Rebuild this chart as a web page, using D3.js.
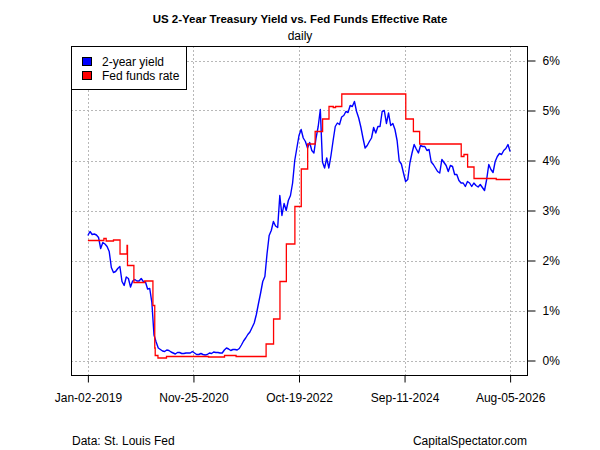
<!DOCTYPE html>
<html>
<head>
<meta charset="utf-8">
<script src="https://cdn.jsdelivr.net/npm/d3@7"></script>
<style>
  body { margin: 0; background: #fff; }
  text { font-family: "Liberation Sans", Arial, sans-serif; }
</style>
</head>
<body>
<div id="chart"></div>
<script>
// 2-year yield, sampled every 14 days starting Jan-02-2019
var sampleStart = "2019-01-02";
var sampleStepDays = 14;
var yield2019 = [2.50,2.58,2.52,2.53,2.51,2.46,2.24,2.36,2.33,2.28,2.18,1.86,1.76,1.78,1.84,1.88,1.58,1.50,1.67,1.64,1.47,1.59,1.62,1.59,1.59,1.64];
var yield2020 = [1.58,1.57,1.43,1.44,1.16,0.51,0.37,0.25,0.22,0.19,0.18,0.21,0.20,0.17,0.15,0.13,0.16,0.16,0.14,0.14,0.15,0.15,0.15,0.18,0.15,0.12];
var yield2021 = [0.12,0.14,0.12,0.11,0.12,0.15,0.14,0.17,0.16,0.16,0.15,0.15,0.21,0.25,0.23,0.20,0.22,0.22,0.21,0.24,0.31,0.39,0.45,0.52,0.57,0.66];
var yield2022 = [0.75,0.92,1.14,1.35,1.58,1.68,2.13,2.50,2.60,2.78,2.69,2.66,3.30,2.90,3.14,3.00,3.20,3.30,3.55,4.00,4.25,4.50,4.62,4.45,4.38,4.25];
var yield2023 = [4.36,4.20,4.15,4.45,4.68,5.02,3.97,3.85,4.05,3.85,4.10,4.40,4.68,4.75,4.72,4.87,4.90,4.98,4.96,5.10,5.08,5.18,4.98,4.85,4.67,4.45];
var yield2024 = [4.25,4.30,4.38,4.45,4.66,4.55,4.68,4.68,4.98,5.00,4.74,4.95,4.70,4.74,4.62,4.40,3.99,3.93,3.75,3.58,3.62,3.95,4.15,4.32,4.23,4.15];
var yield2025 = [4.30,4.28,4.28,4.20,4.22,3.97,3.92,3.85,3.78,3.75,4.02,3.96,3.90,3.78,3.90,3.88,3.72,3.72,3.60,3.55,3.55,3.48,3.58,3.55,3.48,3.55];
var yield2026 = [3.50,3.47,3.52,3.46,3.40,3.62,3.92,3.82,3.76,3.98,4.08,4.14,4.12,4.20,4.24,4.32,4.18];

// fed funds effective rate, change dates (step after)
var ffDates = ["2019-01-02","2019-04-17","2019-05-02","2019-06-19","2019-08-01","2019-09-16","2019-09-19","2019-10-31",
  "2020-01-10","2020-03-04","2020-03-16","2020-03-19","2020-04-06","2020-06-01","2021-03-04","2021-06-17","2021-09-01",
  "2022-03-17","2022-05-05","2022-06-16","2022-07-28","2022-09-22","2022-11-03","2022-12-15","2023-02-02","2023-03-23",
  "2023-05-04","2023-06-01","2023-06-16","2023-07-27","2024-09-19","2024-11-08","2024-12-19","2025-09-18","2025-10-06",
  "2025-10-30","2025-12-11","2026-05-06","2026-08-05"];
var ffRates = [2.40,2.44,2.39,2.41,2.13,2.30,1.90,1.56,1.59,1.10,0.25,0.10,0.05,0.08,0.07,0.10,0.08,0.33,0.83,1.58,
  2.33,3.08,3.83,4.33,4.58,4.83,5.08,5.06,5.08,5.33,4.83,4.58,4.33,4.08,4.12,3.87,3.64,3.62,3.62];

var xTickLabels = ["2019-01-02","2020-11-25","2022-10-19","2024-09-11","2026-08-05"];
var yTicks = [0,1,2,3,4,5,6];

var width = 600, height = 450;
var plotL = 71, plotR = 527, plotT = 46, plotB = 375;

var parseDate = d3.timeParse("%Y-%m-%d");
var start = parseDate(sampleStart);
var yieldValues = [].concat(yield2019, yield2020, yield2021, yield2022, yield2023, yield2024, yield2025, yield2026);
var yieldData = yieldValues.map(function(v, i) {
  return { date: d3.timeDay.offset(start, i * sampleStepDays), value: v };
});
var ffData = ffDates.map(function(d, i) { return { date: parseDate(d), value: ffRates[i] }; });

/* Scale */
var first = yieldData[0].date, last = yieldData[yieldData.length - 1].date;
var pad = (last - first) * 0.04;
var xScale = d3.scaleTime()
  .domain([new Date(+first - pad), new Date(+last + pad)])
  .range([plotL, plotR]);
var yScale = d3.scaleLinear()
  .domain([-0.29, 6.29])
  .range([plotB, plotT]);

var svg = d3.select("#chart").append("svg")
  .attr("width", width)
  .attr("height", height);

svg.append("rect").attr("width", width).attr("height", height).attr("fill", "#fff");

/* Titles */
svg.append("text")
  .attr("x", 300).attr("y", 23)
  .attr("text-anchor", "middle")
  .style("font-size", "11.5px").style("font-weight", "bold")
  .text("US 2-Year Treasury Yield vs. Fed Funds Effective Rate");
svg.append("text")
  .attr("x", 300).attr("y", 40)
  .attr("text-anchor", "middle")
  .style("font-size", "12px")
  .text("daily");

/* Grid */
var tickDates = xTickLabels.map(parseDate);
var grid = svg.append("g")
  .attr("stroke", "#b8b8b8")
  .attr("stroke-width", 1)
  .attr("stroke-dasharray", "2,2");
grid.selectAll(".vgrid").data(tickDates).enter().append("line")
  .attr("x1", function(d) { return Math.round(xScale(d)) + 0.5; })
  .attr("x2", function(d) { return Math.round(xScale(d)) + 0.5; })
  .attr("y1", plotT).attr("y2", plotB);
grid.selectAll(".hgrid").data(yTicks).enter().append("line")
  .attr("y1", function(d) { return Math.round(yScale(d)) + 0.5; })
  .attr("y2", function(d) { return Math.round(yScale(d)) + 0.5; })
  .attr("x1", plotL).attr("x2", plotR);

/* Lines */
var line = d3.line()
  .x(function(d) { return xScale(d.date); })
  .y(function(d) { return yScale(d.value); });
var stepLine = d3.line()
  .curve(d3.curveStepAfter)
  .x(function(d) { return xScale(d.date); })
  .y(function(d) { return yScale(d.value); });

svg.append("path")
  .datum(yieldData)
  .attr("fill", "none")
  .attr("stroke", "#0000ff")
  .attr("stroke-width", 1.4)
  .attr("stroke-linejoin", "round")
  .attr("d", line);

svg.append("path")
  .datum(ffData)
  .attr("fill", "none")
  .attr("stroke", "#ff0000")
  .attr("stroke-width", 1.3)
  .attr("d", stepLine);

/* Box */
svg.append("rect")
  .attr("x", plotL + 0.5).attr("y", plotT + 0.5)
  .attr("width", plotR - plotL).attr("height", plotB - plotT)
  .attr("fill", "none").attr("stroke", "#000").attr("stroke-width", 1);

/* Axes */
var xAxis = d3.axisBottom(xScale)
  .tickValues(tickDates)
  .tickFormat(d3.timeFormat("%b-%d-%Y"))
  .tickSize(7).tickPadding(11);
var gx = svg.append("g")
  .attr("transform", "translate(0," + (plotB + 0.5) + ")")
  .call(xAxis);
gx.select(".domain").remove();
gx.selectAll("text").style("font-size", "12px").attr("fill", "#000").style("font-family", "'Liberation Sans', Arial, sans-serif");

var yAxis = d3.axisRight(yScale)
  .tickValues(yTicks)
  .tickFormat(function(d) { return d + "%"; })
  .tickSize(8).tickPadding(7);
var gy = svg.append("g")
  .attr("transform", "translate(" + (plotR + 0.5) + ",0)")
  .call(yAxis);
gy.select(".domain").remove();
gy.selectAll("text").style("font-size", "12px").attr("fill", "#000").style("font-family", "'Liberation Sans', Arial, sans-serif");

/* Legend */
var legend = svg.append("g");
legend.append("rect")
  .attr("x", plotL + 0.5).attr("y", plotT + 0.5)
  .attr("width", 115).attr("height", 43)
  .attr("fill", "#fff").attr("stroke", "#000");
var legendItems = [
  { label: "2-year yield", color: "#0000ff" },
  { label: "Fed funds rate", color: "#ff0000" }
];
legend.selectAll(".key").data(legendItems).enter().append("rect")
  .attr("x", 82.5)
  .attr("y", function(d, i) { return 57.5 + i * 14; })
  .attr("width", 9).attr("height", 8)
  .attr("fill", function(d) { return d.color; })
  .attr("stroke", "#000");
legend.selectAll(".lab").data(legendItems).enter().append("text")
  .attr("x", 102)
  .attr("y", function(d, i) { return 66 + i * 13.6; })
  .style("font-size", "12px")
  .text(function(d) { return d.label; });

/* Footer */
svg.append("text")
  .attr("x", 72).attr("y", 445)
  .style("font-size", "12px")
  .text("Data: St. Louis Fed");
svg.append("text")
  .attr("x", 527).attr("y", 445)
  .attr("text-anchor", "end")
  .style("font-size", "12px")
  .text("CapitalSpectator.com");
</script>
</body>
</html>
